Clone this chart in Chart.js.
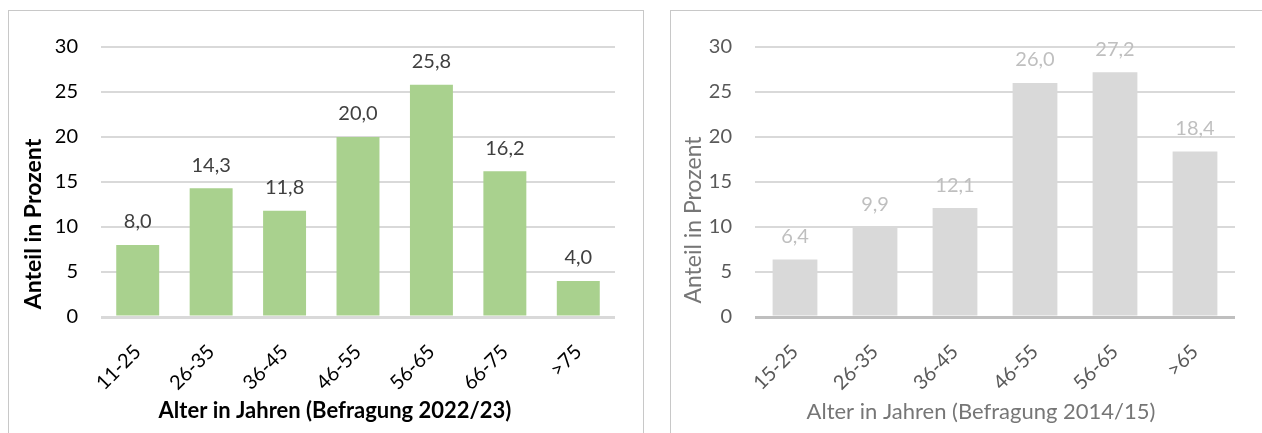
<!DOCTYPE html>
<html lang="de">
<head>
    <meta charset="UTF-8">
    <title>Altersverteilung</title>
    <script src="https://cdn.jsdelivr.net/npm/chart.js"></script>
    <style>
        html, body { margin: 0; padding: 0; background: #fff; overflow: hidden; width: 1262px; height: 433px; }
        .box { position: absolute; border: 1px solid #c8c8c8; background: #fff; }
        #leftBox { left: 8px; top: 10px; width: 634px; height: 440px; }
        #rightBox { left: 670px; top: 10px; width: 620px; height: 440px; }
        .wrap { position: absolute; left: 0; top: 0; height: 422px; }
    </style>
</head>
<body>
    <div class="box" id="leftBox"><div class="wrap" style="width:634px"><canvas id="chartNew"></canvas></div></div>
    <div class="box" id="rightBox"><div class="wrap" style="width:591px"><canvas id="chartOld"></canvas></div></div>

    <script>
        // Befragung 2022/23
        const labelsNew = ['11-25', '26-35', '36-45', '46-55', '56-65', '66-75', '>75'];
        const valuesNew = [8.0, 14.3, 11.8, 20.0, 25.8, 16.2, 4.0];

        // Befragung 2014/15
        const labelsOld = ['15-25', '26-35', '36-45', '46-55', '56-65', '>65'];
        const valuesOld = [6.4, 9.9, 12.1, 26.0, 27.2, 18.4];

        const yTicks = [0, 5, 10, 15, 20, 25, 30];

        const FONT = 'Lato, "Open Sans", sans-serif';

        // draws the value above each bar, German decimal comma
        const valueLabels = {
            id: 'valueLabels',
            afterDatasetsDraw(chart, args, opts) {
                const ctx = chart.ctx;
                const meta = chart.getDatasetMeta(0);
                const data = chart.data.datasets[0].data;
                ctx.save();
                ctx.font = '20px ' + FONT;
                ctx.fillStyle = opts.color;
                ctx.textAlign = 'center';
                ctx.textBaseline = 'middle';
                meta.data.forEach((bar, i) => {
                    ctx.fillText(data[i].toFixed(1).replace('.', ','), bar.x, bar.y - 23);
                });
                ctx.restore();
            }
        };

        // axis titles centred on the whole chart box like in Excel, not on the plot area
        const axisTitles = {
            id: 'axisTitles',
            afterDraw(chart, args, o) {
                const ctx = chart.ctx;
                ctx.save();
                ctx.fillStyle = o.color;
                ctx.textAlign = 'center';
                ctx.textBaseline = 'middle';
                ctx.font = o.weight + ' 22px ' + FONT;
                ctx.fillText(o.xText, o.xPos[0], o.xPos[1]);
                ctx.font = o.weight + ' 23px ' + FONT;
                ctx.translate(o.yPos[0], o.yPos[1]);
                ctx.rotate(-Math.PI / 2);
                ctx.fillText(o.yText, 0, 0);
                ctx.restore();
            }
        };

        function makeChart(id, labels, values, s) {
            new Chart(document.getElementById(id), {
                type: 'bar',
                data: {
                    labels: labels,
                    datasets: [{
                        data: values,
                        backgroundColor: s.barColor,
                        categoryPercentage: 1,
                        barPercentage: s.barPct
                    }]
                },
                plugins: [valueLabels, axisTitles],
                options: {
                    responsive: true,
                    maintainAspectRatio: false,
                    animation: false,
                    layout: { padding: { top: 36, right: s.padRight, left: 0, bottom: 0 } },
                    plugins: {
                        legend: { display: false },
                        tooltip: { enabled: false },
                        valueLabels: { color: s.valueColor },
                        axisTitles: {
                            color: s.titleColor,
                            weight: s.titleWeight,
                            xText: s.xTitle,
                            yText: 'Anteil in Prozent',
                            xPos: s.xTitlePos,
                            yPos: s.yTitlePos
                        }
                    },
                    scales: {
                        x: {
                            grid: { display: false },
                            border: { display: false },
                            ticks: {
                                color: s.tickColor,
                                font: { family: FONT, size: 20 },
                                minRotation: 45,
                                maxRotation: 45,
                                padding: 15
                            },
                            afterFit: axis => { axis.height = 116; }
                        },
                        y: {
                            min: 0,
                            max: 30,
                            afterBuildTicks: axis => { axis.ticks = yTicks.map(v => ({ value: v })); },
                            grid: {
                                drawTicks: false,
                                color: c => c.tick && c.tick.value === 0 ? s.baseColor : '#d9d9d9',
                                lineWidth: c => c.tick && c.tick.value === 0 ? 3 : 2
                            },
                            border: { display: false },
                            ticks: {
                                color: s.tickColor,
                                font: { family: FONT, size: 20 },
                                padding: s.tickPad
                            },
                            afterFit: axis => { axis.width = s.yWidth; }
                        }
                    }
                }
            });
        }

        makeChart('chartNew', labelsNew, valuesNew, {
            barColor: '#a9d18e',
            barPct: 0.585,
            valueColor: '#404040',
            tickColor: '#000000',
            titleColor: '#000000',
            titleWeight: 'bold',
            baseColor: '#d9d9d9',
            xTitle: 'Alter in Jahren (Befragung 2022/23)',
            padRight: 28,
            yWidth: 92,
            tickPad: 23,
            xTitlePos: [326, 400],
            yTitlePos: [25, 213]
        });

        makeChart('chartOld', labelsOld, valuesOld, {
            barColor: '#d9d9d9',
            barPct: 0.56,
            valueColor: '#bfbfbf',
            tickColor: '#595959',
            titleColor: '#767676',
            titleWeight: 'normal',
            baseColor: '#bfbfbf',
            xTitle: 'Alter in Jahren (Befragung 2014/15)',
            padRight: 27,
            yWidth: 84,
            tickPad: 23,
            xTitlePos: [310, 401],
            yTitlePos: [23, 209]
        });
    </script>
</body>
</html>
